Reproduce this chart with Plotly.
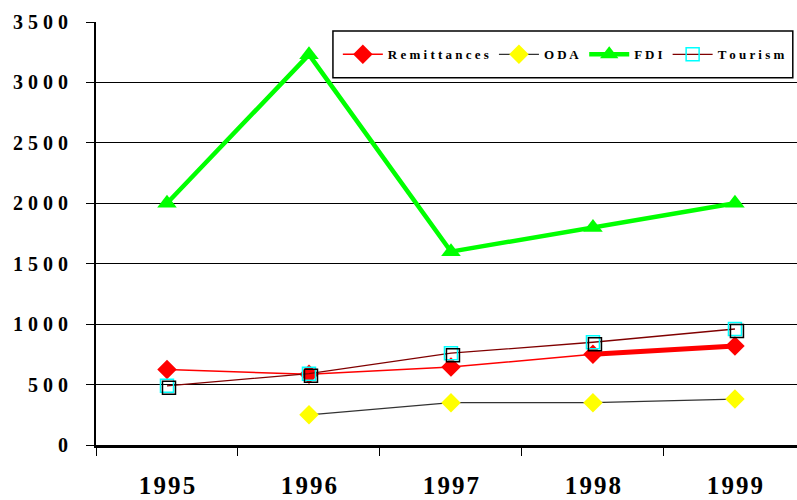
import plotly.graph_objects as go

# Annual inflows (US$ millions)
years = ["1995", "1996", "1997", "1998", "1999"]
remittances = [625, 585, 645, 750, 820]
oda = [None, 250, 350, 350, 380]
fdi = [2000, 3230, 1600, 1800, 2000]
tourism = [490, 590, 760, 850, 960]

y_ticks = [0, 500, 1000, 1500, 2000, 2500, 3000, 3500]


def spaced(s, sep=" "):
    return sep.join(s)


FONT = "Times New Roman, Liberation Serif, Tinos, serif"
X_RANGE = [-0.5, 4.437]
Y_RANGE = [0, 3500]

fig = go.Figure()

# Remittances
fig.add_trace(go.Scatter(
    x=years, y=remittances, name=spaced("Remittances"), mode="lines+markers",
    line=dict(color="#ff0000", width=1.5),
    marker=dict(symbol="diamond", size=15, color="#ff0000"),
))
fig.add_trace(go.Scatter(
    x=years[3:], y=remittances[3:], mode="lines", showlegend=False,
    line=dict(color="#ff0000", width=5), hoverinfo="skip",
))

# ODA
fig.add_trace(go.Scatter(
    x=years, y=oda, name=spaced("ODA"), mode="lines+markers",
    line=dict(color="#333333", width=1.3),
    marker=dict(symbol="diamond", size=15, color="#ffff00"),
))

# FDI
fig.add_trace(go.Scatter(
    x=years, y=fdi, name=spaced("FDI"), mode="lines+markers",
    line=dict(color="#00ff00", width=4.5),
    marker=dict(symbol="triangle-up", size=17, color="#00ff00"),
))

# Tourism: shadow squares on a slightly shifted overlay axis pair
fig.add_trace(go.Scatter(
    x=years, y=tourism, mode="markers", showlegend=False, hoverinfo="skip",
    xaxis="x2", yaxis="y2",
    marker=dict(symbol="square-open", size=13, color="#000000",
                line=dict(color="#000000", width=1.5)),
))
fig.add_trace(go.Scatter(
    x=years, y=tourism, name=spaced("Tourism"), mode="lines+markers",
    line=dict(color="#800000", width=1.3),
    marker=dict(symbol="square-open", size=13, color="#00ffff",
                line=dict(color="#00ffff", width=1.5)),
))

px_x = (X_RANGE[1] - X_RANGE[0]) / 701.0
px_y = (Y_RANGE[1] - Y_RANGE[0]) / 423.0

# Legend frame (plot-area fractions)
fig.add_shape(
    type="rect", xref="paper", yref="paper",
    x0=0.338, x1=0.994, y0=0.868, y1=0.979,
    line=dict(color="black", width=1.5), fillcolor="white", layer="above",
)

fig.update_layout(
    width=797, height=500,
    margin=dict(l=96, r=0, t=22, b=55),
    paper_bgcolor="white", plot_bgcolor="white",
    font=dict(family=FONT, color="black"),
    showlegend=True,
    legend=dict(
        orientation="h", x=0.345, xanchor="left", y=0.9235, yanchor="middle",
        bgcolor="rgba(0,0,0,0)", borderwidth=0,
        font=dict(family=FONT, size=13, color="black", weight="bold"),
        itemwidth=40,
    ),
    xaxis=dict(
        type="category", range=X_RANGE, tickson="boundaries",
        ticks="outside", ticklen=8, tickwidth=1, tickcolor="black",
        showline=True, linecolor="black", linewidth=3,
        showgrid=False, zeroline=False,
        tickvals=years, ticktext=[spaced(y, "\u200a") for y in years],
        tickfont=dict(family=FONT, size=25, weight="bold", color="black"),
        ticklabelstandoff=16,
    ),
    yaxis=dict(
        range=Y_RANGE, tickvals=y_ticks,
        ticktext=[spaced(str(v)) for v in y_ticks],
        ticks="outside", ticklen=8, tickwidth=1, tickcolor="black",
        showline=True, linecolor="black", linewidth=2,
        showgrid=True, gridcolor="black", gridwidth=1.2,
        zeroline=False,
        tickfont=dict(family=FONT, size=20, weight="bold", color="black"),
        ticklabelstandoff=14,
    ),
    xaxis2=dict(
        type="category", overlaying="x",
        range=[X_RANGE[0] - 2 * px_x, X_RANGE[1] - 2 * px_x],
        visible=False,
    ),
    yaxis2=dict(
        overlaying="y",
        range=[Y_RANGE[0] + 2 * px_y, Y_RANGE[1] + 2 * px_y],
        visible=False,
    ),
)

fig.write_html("out.html")
